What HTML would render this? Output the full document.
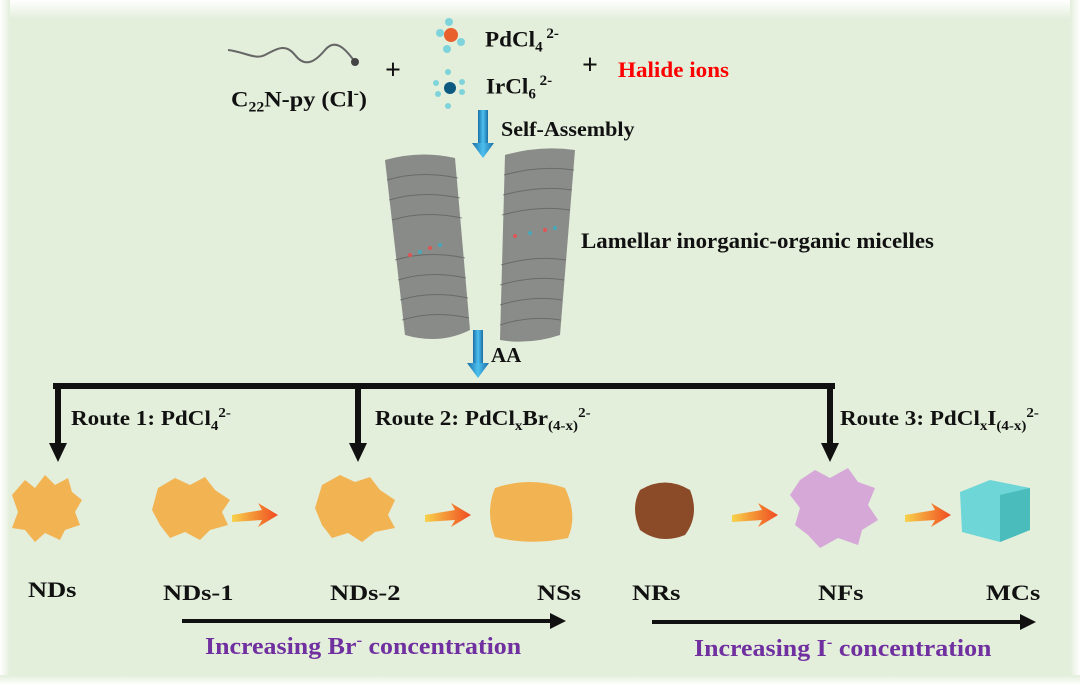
<!DOCTYPE html>
<html><head><meta charset="utf-8"><style>
body{margin:0;width:1080px;height:685px;overflow:hidden;background:#e3eedb;font-family:"Liberation Serif","DejaVu Serif",serif;}
.t{position:absolute;font-weight:bold;color:#111;white-space:nowrap;transform-origin:0 0;}
sub,sup{font-size:65%;}
</style></head><body>
<div style="position:absolute;left:0;top:0;width:1080px;height:20px;background:linear-gradient(#fff,#e3eedb)"></div>
<div style="position:absolute;left:0;top:0;width:10px;height:685px;background:linear-gradient(90deg,#fff,#e3eedb)"></div>
<div style="position:absolute;right:0;top:0;width:10px;height:685px;background:linear-gradient(270deg,#fff,#e3eedb)"></div>
<div style="position:absolute;left:0;bottom:0;width:1080px;height:10px;background:linear-gradient(0deg,#fff,#e3eedb)"></div>
<svg width="1080" height="685" style="position:absolute;left:0;top:0">
<defs>
<linearGradient id="bl" x1="0" x2="1"><stop offset="0" stop-color="#1a6fa8"/><stop offset=".5" stop-color="#4cc0ee"/><stop offset="1" stop-color="#1a6fa8"/></linearGradient>
<linearGradient id="or" x1="0" x2="1"><stop offset="0" stop-color="#f7d24a"/><stop offset="1" stop-color="#f04a20"/></linearGradient>
</defs>
<path d="M228 50 C245 52,255 60,265 55 S285 42,295 55 S315 62,325 50 S345 48,355 62" stroke="#666" stroke-width="2" fill="none"/>
<circle cx="355" cy="62" r="4" fill="#444"/>
<g fill="#7fd4dc"><circle cx="449" cy="22" r="4"/><circle cx="440" cy="33" r="4"/><circle cx="461" cy="42" r="4"/><circle cx="447" cy="49" r="4"/></g>
<circle cx="451" cy="35" r="7" fill="#e8602c"/>
<g fill="#7fd4dc"><circle cx="436" cy="83" r="3"/><circle cx="448" cy="72" r="3"/><circle cx="448" cy="106" r="3"/><circle cx="462" cy="82" r="3"/><circle cx="462" cy="92" r="3"/><circle cx="438" cy="94" r="3"/></g>
<circle cx="450" cy="88" r="6" fill="#0c5a80"/>
<rect x="478" y="110" width="10" height="35" fill="url(#bl)"/><polygon points="472,143 494,143 483,158" fill="url(#bl)"/>
<rect x="473" y="330" width="10" height="35" fill="url(#bl)"/><polygon points="467,363 489,363 478,378" fill="url(#bl)"/>
<g fill="#7a7a7a" opacity=".85">
<path d="M385 160 Q420 150 455 158 L470 330 Q440 345 405 335 Z"/>
<path d="M505 155 Q540 145 575 150 L560 335 Q530 345 500 340 Z"/>
</g>
<g stroke="#555" stroke-width="1" fill="none" opacity=".6">
<path d="M387 180 Q420 170 458 178 M389 200 Q422 190 460 198 M392 220 Q424 210 462 218 M395 260 Q428 250 465 258 M398 280 Q430 270 466 278 M400 300 Q432 290 468 298 M402 320 Q434 310 469 318"/>
<path d="M504 175 Q540 165 574 170 M503 195 Q540 185 572 190 M502 215 Q538 205 570 210 M501 265 Q535 255 566 260 M500 285 Q534 275 564 280 M500 305 Q532 295 562 300 M500 325 Q530 315 561 320"/>
</g>
<g fill="#d55"><circle cx="410" cy="255" r="2"/><circle cx="430" cy="248" r="2"/><circle cx="515" cy="236" r="2"/><circle cx="545" cy="230" r="2"/></g>
<g fill="#4ab"><circle cx="420" cy="252" r="2"/><circle cx="440" cy="245" r="2"/><circle cx="530" cy="233" r="2"/><circle cx="555" cy="228" r="2"/></g>
<g fill="#111">
<rect x="53" y="383" width="782" height="6"/>
<rect x="55" y="383" width="6" height="62"/><polygon points="49,443 67,443 58,462"/>
<rect x="355" y="383" width="6" height="62"/><polygon points="349,443 367,443 358,462"/>
<rect x="827" y="383" width="6" height="62"/><polygon points="821,443 839,443 830,462"/>
<rect x="182" y="619" width="370" height="4"/><polygon points="550,613 566,621 550,629"/>
<rect x="652" y="620" width="372" height="4"/><polygon points="1020,614 1036,622 1020,630"/>
</g>
<g fill="#f2b452">
<path d="M12 495 L25 480 L35 488 L45 475 L55 485 L68 478 L72 492 L82 500 L75 512 L80 525 L65 530 L60 540 L45 533 L35 542 L25 530 L12 528 L18 512 Z"/>
<path d="M158 488 L175 478 L190 485 L205 477 L215 490 L230 500 L222 512 L228 525 L210 530 L200 540 L185 532 L170 538 L160 525 L152 510 Z"/>
<path d="M322 485 L340 475 L355 482 L370 477 L380 490 L395 500 L388 515 L395 528 L375 532 L362 542 L348 533 L332 538 L322 525 L315 508 Z"/>
<path d="M495 488 Q530 476 565 488 Q578 515 568 538 Q530 546 495 537 Q485 512 495 488Z"/>
</g>
<path d="M640 490 Q665 475 690 490 Q700 515 685 535 Q660 545 640 530 Q630 508 640 490Z" fill="#8b4a28"/>
<path d="M800 480 L815 470 L830 478 L848 468 L858 482 L875 488 L868 505 L878 520 L862 530 L858 545 L838 538 L820 548 L808 535 L795 525 L800 508 L790 495 Z" fill="#d6a8d8"/>
<path d="M960 492 L990 480 L1030 488 L1030 530 L1000 542 L962 532Z" fill="#6ed6d6"/>
<path d="M1000 495 L1030 488 L1030 530 L1000 542Z" fill="#4bbcbc"/>
<path d="M232 515 L262 510 L258 503 L278 515 L258 527 L262 520 L232 522Z" fill="url(#or)"/>
<path d="M425 515 L455 510 L451 503 L471 515 L451 527 L455 520 L425 522Z" fill="url(#or)"/>
<path d="M732 515 L762 510 L758 503 L778 515 L758 527 L762 520 L732 522Z" fill="url(#or)"/>
<path d="M905 515 L935 510 L931 503 L951 515 L931 527 L935 520 L905 522Z" fill="url(#or)"/>
</svg>
<div class="t" style="left:485px;top:26px;font-size:22px;transform:scaleX(1.05)">PdCl<sub>4</sub><sup> 2-</sup></div>
<div class="t" style="left:486px;top:73px;font-size:22px;transform:scaleX(1.05)">IrCl<sub>6</sub><sup> 2-</sup></div>
<div class="t" style="left:385px;top:55px;font-size:28px">+</div>
<div class="t" style="left:582px;top:50px;font-size:28px">+</div>
<div class="t" style="left:618px;top:57px;font-size:22px;color:#f00;transform:scaleX(1.05)">Halide ions</div>
<div class="t" style="left:231px;top:86px;font-size:22px;transform:scaleX(1.1)">C<sub>22</sub>N-py (Cl<sup>-</sup>)</div>
<div class="t" style="left:501px;top:117px;font-size:21px;transform:scaleX(1.05)">Self-Assembly</div>
<div class="t" style="left:581px;top:228px;font-size:22px;transform:scaleX(1.04)">Lamellar inorganic-organic micelles</div>
<div class="t" style="left:491px;top:343px;font-size:21px">AA</div>
<div class="t" style="left:71px;top:405px;font-size:21px;transform:scaleX(1.1)">Route 1: PdCl<sub>4</sub><sup>2-</sup></div>
<div class="t" style="left:375px;top:405px;font-size:21px;transform:scaleX(1.1)">Route 2: PdCl<sub>x</sub>Br<sub>(4-x)</sub><sup>2-</sup></div>
<div class="t" style="left:840px;top:405px;font-size:21px;transform:scaleX(1.1)">Route 3: PdCl<sub>x</sub>I<sub>(4-x)</sub><sup>2-</sup></div>
<div class="t" style="left:28px;top:577px;font-size:22px;transform:scaleX(1.2)">NDs</div>
<div class="t" style="left:163px;top:580px;font-size:22px;transform:scaleX(1.2)">NDs-1</div>
<div class="t" style="left:330px;top:580px;font-size:22px;transform:scaleX(1.2)">NDs-2</div>
<div class="t" style="left:537px;top:580px;font-size:22px;transform:scaleX(1.2)">NSs</div>
<div class="t" style="left:632px;top:580px;font-size:22px;transform:scaleX(1.2)">NRs</div>
<div class="t" style="left:818px;top:580px;font-size:22px;transform:scaleX(1.2)">NFs</div>
<div class="t" style="left:986px;top:580px;font-size:22px;transform:scaleX(1.2)">MCs</div>
<div class="t" style="left:205px;top:632px;font-size:24px;color:#7030a0;transform:scaleX(1.08)">Increasing Br<sup>-</sup> concentration</div>
<div class="t" style="left:694px;top:634px;font-size:24px;color:#7030a0;transform:scaleX(1.08)">Increasing I<sup>-</sup> concentration</div>
</body></html>
